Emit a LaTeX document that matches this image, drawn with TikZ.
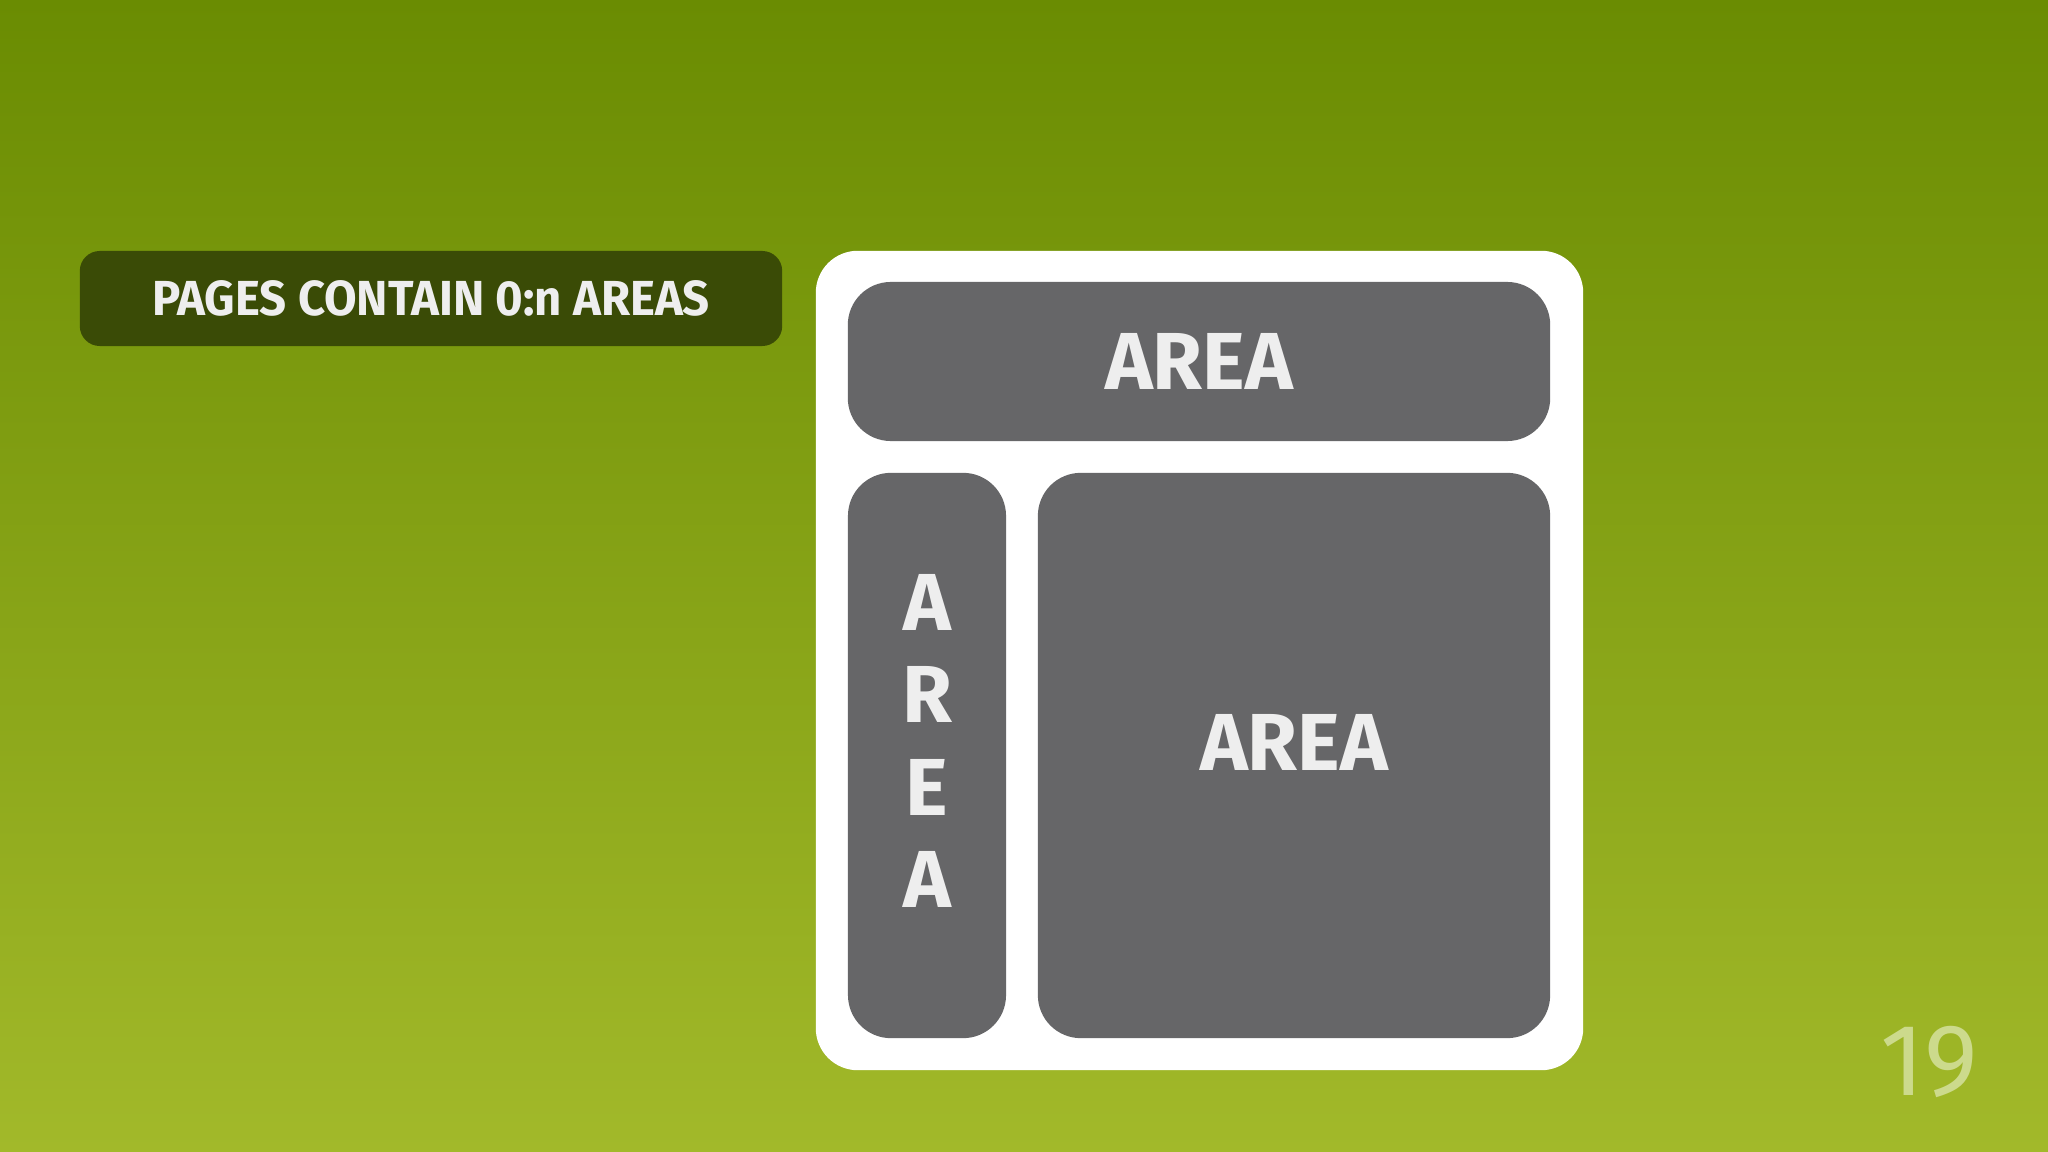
\documentclass[tikz,border=0pt]{standalone}
\usepackage{fontspec}
\setmainfont{Fira Sans}
\usetikzlibrary{positioning}
\definecolor{bgtop}{RGB}{106,140,2}
\definecolor{bgbot}{RGB}{162,185,42}
\definecolor{areagray}{RGB}{102,102,104}
\definecolor{tagdark}{RGB}{58,75,6}
\definecolor{lighttext}{RGB}{238,238,238}
\definecolor{numcol}{RGB}{204,218,140}

\begin{document}
\begin{tikzpicture}[x=0.01cm,y=-0.01cm,
  tagbox/.style={fill=tagdark,rounded corners=0.2cm,minimum width=7.02cm,minimum height=0.95cm,
    text=lighttext,font=\bfseries\fontsize{14}{16}\selectfont},
  pagebox/.style={fill=white,rounded corners=0.42cm,minimum width=7.67cm,minimum height=8.19cm},
  areabox/.style={fill=areagray,rounded corners=0.43cm,inner sep=0pt},
  areatext/.style={text=lighttext,font=\bfseries\fontsize{23}{26}\selectfont,inner sep=0pt}]
\useasboundingbox (0,0) rectangle (2048,1152);
\shade[top color=bgtop,bottom color=bgbot] (0,0) rectangle (2048,1152);

\node[tagbox] (tag) at (431,298.5) {\scalebox{0.96}[1]{PAGES CONTAIN 0:n AREAS}};

\node[pagebox] (page) at (1199.5,660.5) {};
\node[areabox,minimum width=7.02cm,minimum height=1.59cm] (areatop) at (1199,361.5) {};
\node[areabox,minimum width=1.58cm,minimum height=5.65cm] (arealeft) at (927,755.5) {};
\node[areabox,minimum width=5.12cm,minimum height=5.65cm] (arearight) at (1294,755.5) {};

\node[areatext] (toplabel) at (areatop.center) {AREA};
\node[areatext] (rightlabel) at (1294,742) {AREA};
\node[areatext,align=center,font=\bfseries\fontsize{23}{26.2}\selectfont] (leftlabel) at (927,741) {A\\R\\E\\A};

\node[text=numcol,font=\fontsize{29}{32}\selectfont,inner sep=0pt] (pageno) at (1929,1062) {19};
\end{tikzpicture}
\end{document}
